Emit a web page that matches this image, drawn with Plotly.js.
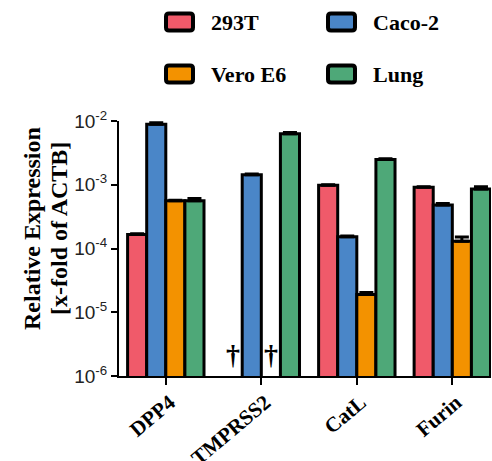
<!DOCTYPE html>
<html>
<head>
<meta charset="utf-8">
<script src="https://cdn.plot.ly/plotly-3.0.1.min.js"></script>
<style>
  html, body { margin: 0; padding: 0; background: #fff; overflow: hidden; }
  #chart { width: 492px; height: 461px; }
</style>
</head>
<body>
<div id="chart"></div>
<script>
// Relative expression of protease / receptor genes (x-fold of ACTB), log scale
const categories = ['DPP4', 'TMPRSS2', 'CatL', 'Furin'];
const seriesNames = ['293T', 'Caco-2', 'Vero E6', 'Lung'];
const seriesColors = ['#f05a6a', '#4a86c8', '#f39200', '#4ea878'];

// null = not detected (marked with a dagger)
const values293T   = [1.66e-4, null,    9.8e-4,  9.1e-4];
const valuesCaco2  = [8.9e-3,  1.44e-3, 1.53e-4, 4.8e-4];
const valuesVeroE6 = [5.6e-4,  null,    1.9e-5,  1.3e-4];
const valuesLung   = [5.6e-4,  6.3e-3,  2.5e-3,  8.6e-4];

const errors293T   = [4e-6,  null,  2e-5,  2e-5];
const errorsCaco2  = [5e-4,  3e-5,  4e-6,  3e-5];
const errorsVeroE6 = [1e-5,  null,  1.5e-6, 2.1e-5];
const errorsLung   = [5e-5,  3e-4,  5e-5,  7e-5];

const yTickVals = [1e-6, 1e-5, 1e-4, 1e-3, 1e-2];
const yTickText = ['10<sup>-6</sup>', '10<sup>-5</sup>', '10<sup>-4</sup>', '10<sup>-3</sup>', '10<sup>-2</sup>'];
const yTitleLines = ['Relative Expression', '[x-fold of ACTB]'];

const allValues = [values293T, valuesCaco2, valuesVeroE6, valuesLung];
const allErrors = [errors293T, errorsCaco2, errorsVeroE6, errorsLung];

const W = 492, H = 461;
const M = { l: 119, r: 1, t: 121, b: 85 };
const plotW = W - M.l - M.r, plotH = H - M.t - M.b;
const px2paperX = px => (px - M.l) / plotW;
const px2paperY = py => (H - M.b - py) / plotH;

const BARGAP = 0.2;
const barWidth = (1 - BARGAP) / seriesNames.length;

const traces = seriesNames.map((name, i) => ({
  type: 'bar',
  name: name,
  x: categories,
  y: allValues[i],
  marker: { color: seriesColors[i], line: { color: '#000', width: 3 } },
  error_y: {
    type: 'data', symmetric: false,
    array: allErrors[i],
    arrayminus: allErrors[i].map(() => 0),
    color: '#000', thickness: 3, width: 7
  },
  showlegend: false,
  hoverinfo: 'x+y+name'
}));

const serifBold = { family: 'Liberation Serif, Times New Roman, serif', weight: 'bold', color: '#000' };
const annotations = [];
const shapes = [];

// daggers for not-detected values
allValues.forEach((vals, s) => {
  vals.forEach((v, c) => {
    if (v === null) {
      annotations.push({
        x: c + (s - (seriesNames.length - 1) / 2) * barWidth,
        y: -5.67, xref: 'x', yref: 'y',
        text: '†', showarrow: false,
        font: Object.assign({}, serifBold, { size: 28 })
      });
    }
  });
});

// y-axis title, one annotation per line
const yTitleX = [32, 59];
yTitleLines.forEach((line, i) => {
  annotations.push({
    xref: 'paper', yref: 'paper',
    x: px2paperX(yTitleX[i]), y: px2paperY(229),
    xanchor: 'center', yanchor: 'middle',
    textangle: -90, showarrow: false,
    text: line,
    font: Object.assign({}, serifBold, { size: 24 })
  });
});

// rounded rectangle path in paper units
function roundedRect(px0, py0, px1, py1, r) {
  const X = px2paperX, Y = px2paperY;
  return 'M ' + X(px0 + r) + ' ' + Y(py0) +
    ' L ' + X(px1 - r) + ' ' + Y(py0) +
    ' Q ' + X(px1) + ' ' + Y(py0) + ' ' + X(px1) + ' ' + Y(py0 + r) +
    ' L ' + X(px1) + ' ' + Y(py1 - r) +
    ' Q ' + X(px1) + ' ' + Y(py1) + ' ' + X(px1 - r) + ' ' + Y(py1) +
    ' L ' + X(px0 + r) + ' ' + Y(py1) +
    ' Q ' + X(px0) + ' ' + Y(py1) + ' ' + X(px0) + ' ' + Y(py1 - r) +
    ' L ' + X(px0) + ' ' + Y(py0 + r) +
    ' Q ' + X(px0) + ' ' + Y(py0) + ' ' + X(px0 + r) + ' ' + Y(py0) + ' Z';
}

// legend: two columns, two rows of framed swatches
const legendCols = [166, 328];
const legendRows = [22, 74];
seriesNames.forEach((name, i) => {
  const col = legendCols[i % 2], row = legendRows[Math.floor(i / 2)];
  shapes.push({
    type: 'path', xref: 'paper', yref: 'paper',
    path: roundedRect(col, row - 8.5, col + 27, row + 8.5, 3),
    fillcolor: seriesColors[i], line: { color: '#000', width: 4 }
  });
  annotations.push({
    xref: 'paper', yref: 'paper',
    x: px2paperX(col + 43), y: px2paperY(row),
    xanchor: 'left', yanchor: 'middle', showarrow: false,
    text: name,
    font: Object.assign({}, serifBold, { size: 22 })
  });
});

const layout = {
  width: W, height: H,
  margin: M,
  paper_bgcolor: '#fff', plot_bgcolor: '#fff',
  barmode: 'group', bargap: BARGAP, bargroupgap: 0,
  showlegend: false,
  xaxis: {
    type: 'category',
    range: [-0.49, 3.405],
    showline: true, linecolor: '#000', linewidth: 2,
    ticks: 'outside', ticklen: 7, tickwidth: 2, tickcolor: '#000',
    tickangle: -40,
    ticklabelshift: 4,
    ticklabelstandoff: -3,
    tickfont: Object.assign({}, serifBold, { size: 21 }),
    showgrid: false, zeroline: false, fixedrange: true
  },
  yaxis: {
    type: 'log',
    range: [-6, -2],
    tickvals: yTickVals, ticktext: yTickText,
    showline: true, linecolor: '#000', linewidth: 2,
    ticks: 'outside', ticklen: 6, tickwidth: 2, tickcolor: '#000',
    tickfont: { family: 'Liberation Sans, Arial, sans-serif', size: 19, color: '#222' },
    showgrid: false, zeroline: false, fixedrange: true
  },
  annotations: annotations,
  shapes: shapes
};

Plotly.newPlot('chart', traces, layout, { staticPlot: true, displayModeBar: false });
</script>
</body>
</html>
